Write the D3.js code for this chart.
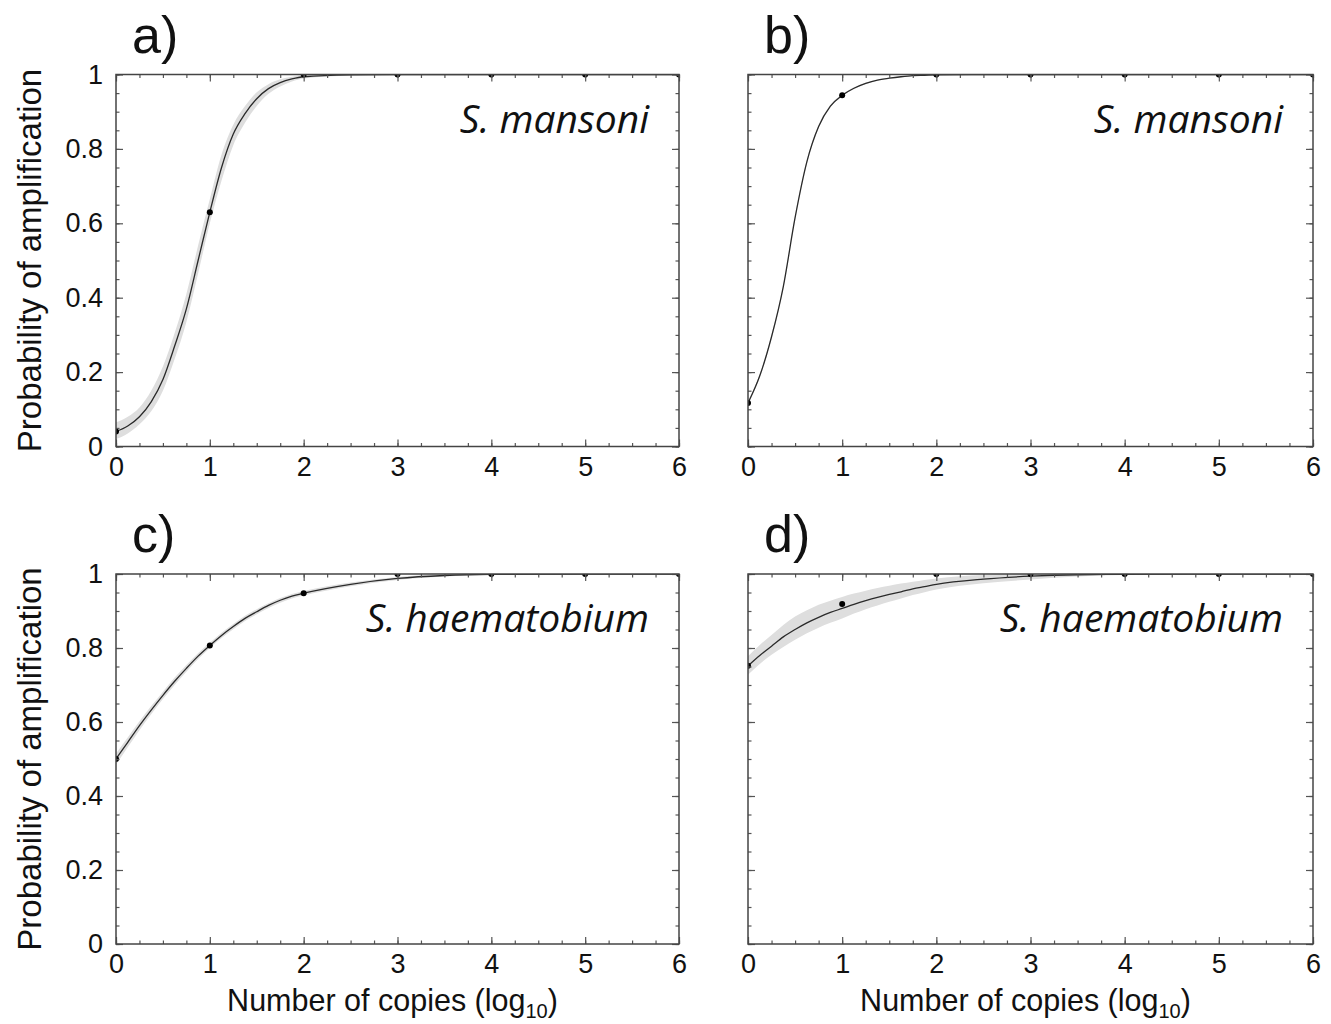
<!DOCTYPE html>
<html>
<head>
<meta charset="utf-8">
<script src="https://cdn.jsdelivr.net/npm/d3@7"></script>
<style>
  body { margin: 0; background: #fff; }
  text { font-family: "Liberation Sans", Arial, sans-serif; fill: #111; }
  .species { font-family: "Open Sans", "Noto Sans", sans-serif; font-style: italic; }
</style>
</head>
<body>
<div id="chart"></div>
<script>
// x grid (log10 copies) used for the fitted curves and bands
const grid = [0, 0.125, 0.25, 0.375, 0.5, 0.625, 0.75, 0.875, 1, 1.125, 1.25, 1.375, 1.5, 1.625, 1.75, 1.875, 2, 2.5, 3, 3.5, 4, 5, 6];

const xTicks = [0, 1, 2, 3, 4, 5, 6];
const yTicks = [0, 0.2, 0.4, 0.6, 0.8, 1];
const panelLabels = ['a)', 'b)', 'c)', 'd)'];
const speciesLabels = ['S. mansoni', 'S. mansoni', 'S. haematobium', 'S. haematobium'];

// panel a
const fitA = [0.04, 0.055, 0.08, 0.12, 0.18, 0.27, 0.37, 0.5, 0.63, 0.75, 0.84, 0.895, 0.935, 0.962, 0.978, 0.988, 0.994, 0.999, 1, 1, 1, 1, 1];
const lowA = [0.02, 0.035, 0.06, 0.095, 0.15, 0.235, 0.335, 0.465, 0.6, 0.715, 0.81, 0.87, 0.915, 0.948, 0.968, 0.981, 0.989, 0.997, 1, 1, 1, 1, 1];
const highA = [0.065, 0.08, 0.105, 0.15, 0.215, 0.305, 0.41, 0.54, 0.665, 0.785, 0.865, 0.915, 0.952, 0.974, 0.987, 0.994, 0.998, 1, 1, 1, 1, 1, 1];
const obsXA = [0, 1, 2, 3, 4, 5, 6];
const obsYA = [0.04, 0.63, 1, 1, 1, 1, 1];

// panel b
const fitB = [0.117, 0.19, 0.295, 0.43, 0.615, 0.765, 0.86, 0.915, 0.944, 0.963, 0.976, 0.985, 0.99, 0.994, 0.997, 0.998, 0.999, 1, 1, 1, 1, 1, 1];
const lowB = [0.113, 0.186, 0.29, 0.425, 0.61, 0.76, 0.856, 0.912, 0.941, 0.961, 0.974, 0.984, 0.989, 0.993, 0.996, 0.998, 0.999, 1, 1, 1, 1, 1, 1];
const highB = [0.121, 0.194, 0.3, 0.435, 0.62, 0.77, 0.864, 0.918, 0.947, 0.965, 0.978, 0.986, 0.991, 0.995, 0.998, 0.999, 1, 1, 1, 1, 1, 1, 1];
const obsXB = [0, 1, 2, 3, 4, 5, 6];
const obsYB = [0.117, 0.944, 1, 1, 1, 1, 1];

// panel c
const fitC = [0.5, 0.545, 0.59, 0.632, 0.672, 0.71, 0.745, 0.778, 0.807, 0.834, 0.858, 0.88, 0.898, 0.915, 0.929, 0.94, 0.948, 0.972, 0.988, 0.996, 0.999, 1, 1];
const lowC = [0.485, 0.532, 0.578, 0.621, 0.662, 0.7, 0.736, 0.77, 0.8, 0.827, 0.851, 0.873, 0.891, 0.908, 0.922, 0.934, 0.942, 0.967, 0.984, 0.993, 0.998, 1, 1];
const highC = [0.515, 0.558, 0.602, 0.643, 0.682, 0.72, 0.754, 0.786, 0.814, 0.841, 0.865, 0.887, 0.905, 0.921, 0.935, 0.946, 0.954, 0.977, 0.992, 0.999, 1, 1, 1];
const obsXC = [0, 1, 2, 3, 4, 5, 6];
const obsYC = [0.5, 0.807, 0.948, 1, 1, 1, 1];

// panel d
const fitD = [0.752, 0.78, 0.805, 0.83, 0.85, 0.868, 0.883, 0.896, 0.907, 0.918, 0.928, 0.937, 0.945, 0.952, 0.96, 0.966, 0.972, 0.986, 0.994, 0.998, 0.999, 1, 1];
const lowD = [0.728, 0.757, 0.782, 0.803, 0.822, 0.84, 0.855, 0.868, 0.88, 0.893, 0.905, 0.915, 0.925, 0.934, 0.943, 0.951, 0.958, 0.975, 0.985, 0.993, 0.997, 1, 1];
const highD = [0.778, 0.808, 0.835, 0.862, 0.885, 0.902, 0.917, 0.928, 0.938, 0.947, 0.955, 0.962, 0.968, 0.974, 0.979, 0.984, 0.988, 0.997, 1, 1, 1, 1, 1];
const obsXD = [0, 1, 2, 3, 4, 5, 6];
const obsYD = [0.752, 0.919, 1, 1, 1, 1, 1];

const width = 1331;
const height = 1024;
const cols = [[116, 679], [748, 1313]];
const rows = [[74.5, 446.5], [574, 944]];

const panels = [
  { fit: fitA, low: lowA, high: highA, ox: obsXA, oy: obsYA, col: 0, row: 0 },
  { fit: fitB, low: lowB, high: highB, ox: obsXB, oy: obsYB, col: 1, row: 0 },
  { fit: fitC, low: lowC, high: highC, ox: obsXC, oy: obsYC, col: 0, row: 1 },
  { fit: fitD, low: lowD, high: highD, ox: obsXD, oy: obsYD, col: 1, row: 1 },
];

const minorX = d3.range(0, 6.001, 0.25);
const minorY = d3.range(0, 1.001, 0.05);

const svg = d3.select('#chart').append('svg')
  .attr('width', width)
  .attr('height', height);

panels.forEach((p, i) => {
  const [x0, x1] = cols[p.col];
  const [y0, y1] = rows[p.row];

  const x = d3.scaleLinear().domain([0, 6]).range([x0, x1]);
  const y = d3.scaleLinear().domain([0, 1]).range([y1, y0]);

  const clipId = `clip-${i}`;
  svg.append('clipPath').attr('id', clipId)
    .append('rect')
    .attr('x', x0).attr('y', y0)
    .attr('width', x1 - x0).attr('height', y1 - y0);

  const g = svg.append('g');
  const plot = g.append('g').attr('clip-path', `url(#${clipId})`);

  const band = d3.area()
    .x((d, j) => x(grid[j]))
    .y0((d, j) => y(p.low[j]))
    .y1((d, j) => y(p.high[j]))
    .curve(d3.curveMonotoneX);

  plot.append('path')
    .datum(grid)
    .attr('d', band)
    .attr('fill', '#dedede');

  const line = d3.line()
    .x((d, j) => x(grid[j]))
    .y(d => y(d))
    .curve(d3.curveMonotoneX);

  plot.append('path')
    .datum(p.fit)
    .attr('d', line)
    .attr('fill', 'none')
    .attr('stroke', '#2a2a2a')
    .attr('stroke-width', 1.3);

  plot.selectAll('circle')
    .data(p.ox)
    .enter().append('circle')
    .attr('cx', d => x(d))
    .attr('cy', (d, j) => y(p.oy[j]))
    .attr('r', 3)
    .attr('fill', '#000');

  // ticks on all four sides, pointing inward
  const addAxis = (axis, tx, ty, labels) => {
    const a = g.append('g')
      .attr('transform', `translate(${tx},${ty})`)
      .call(axis);
    a.select('.domain').remove();
    a.selectAll('line').attr('stroke', '#555').attr('stroke-width', 1.2);
    if (labels) {
      a.selectAll('text').attr('font-size', 27).attr('fill', '#111')
        .attr('font-family', '"Liberation Sans", Arial, sans-serif');
    }
    return a;
  };

  addAxis(d3.axisBottom(x).tickValues(xTicks).tickSize(-7).tickPadding(10)
    .tickFormat(d3.format('d')), 0, y1, true);
  addAxis(d3.axisBottom(x).tickValues(minorX).tickSize(-3.5).tickFormat(''), 0, y1);
  addAxis(d3.axisTop(x).tickValues(xTicks).tickSize(-7).tickFormat(''), 0, y0);
  addAxis(d3.axisTop(x).tickValues(minorX).tickSize(-3.5).tickFormat(''), 0, y0);

  const yFmt = d => (d === 0 || d === 1 ? d3.format('d')(d) : d3.format('.1f')(d));
  addAxis(d3.axisLeft(y).tickValues(yTicks).tickSize(-7).tickPadding(13)
    .tickFormat(p.col === 0 ? yFmt : ''), x0, 0, p.col === 0);
  addAxis(d3.axisLeft(y).tickValues(minorY).tickSize(-3.5).tickFormat(''), x0, 0);
  addAxis(d3.axisRight(y).tickValues(yTicks).tickSize(-7).tickFormat(''), x1, 0);
  addAxis(d3.axisRight(y).tickValues(minorY).tickSize(-3.5).tickFormat(''), x1, 0);

  g.append('rect')
    .attr('x', x0).attr('y', y0)
    .attr('width', x1 - x0).attr('height', y1 - y0)
    .attr('fill', 'none')
    .attr('stroke', '#444')
    .attr('stroke-width', 1.5);

  g.append('text')
    .attr('x', x0 + 16)
    .attr('y', y0 - 22)
    .attr('font-size', 52)
    .text(panelLabels[i]);

  g.append('text')
    .attr('class', 'species')
    .attr('x', x1 - 30)
    .attr('y', y0 + 58)
    .attr('text-anchor', 'end')
    .attr('font-size', 39)
    .text(speciesLabels[i]);

  if (p.col === 0) {
    g.append('text')
      .attr('transform', `translate(41,${(y0 + y1) / 2}) rotate(-90)`)
      .attr('text-anchor', 'middle')
      .attr('font-size', 33)
      .text('Probability of amplification');
  }

  if (p.row === 1) {
    const t = g.append('text')
      .attr('x', (x0 + x1) / 2 - 5)
      .attr('y', 1011)
      .attr('text-anchor', 'middle')
      .attr('font-size', 30.5);
    t.append('tspan').text('Number of copies (log');
    t.append('tspan').attr('font-size', 20).attr('dy', 7).text('10');
    t.append('tspan').attr('dy', -7).text(')');
  }
});
</script>
</body>
</html>
